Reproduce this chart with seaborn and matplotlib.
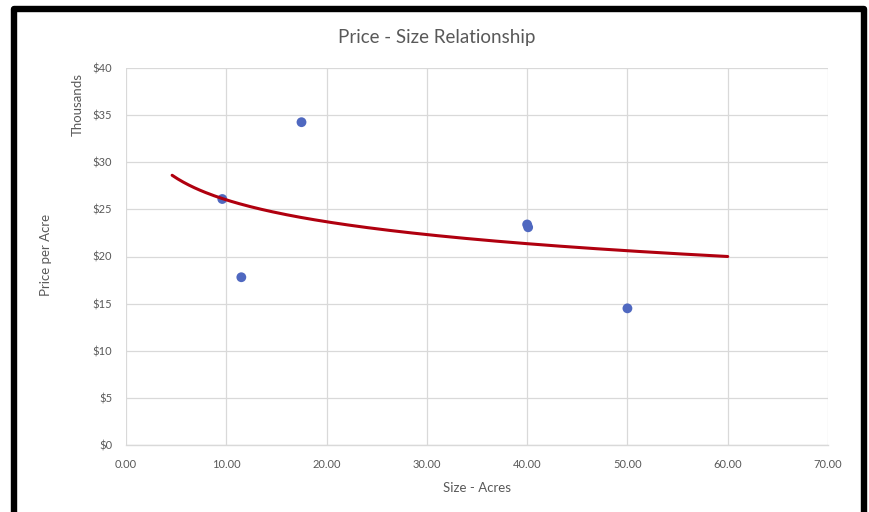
import numpy as np
import pandas as pd
import matplotlib
matplotlib.use("Agg")
import matplotlib.pyplot as plt
import seaborn as sns
from matplotlib.ticker import FuncFormatter
from matplotlib.patches import Rectangle

# Parcel sizes (acres) and price per acre (dollars)
size_acres = [9.6, 11.5, 17.5, 40.0, 40.1, 50.0]
price_per_acre = [26100, 17800, 34250, 23400, 23100, 14500]

x_ticks = [0, 10, 20, 30, 40, 50, 60, 70]
y_ticks = [0, 5000, 10000, 15000, 20000, 25000, 30000, 35000, 40000]

df = pd.DataFrame({"size": size_acres, "price": price_per_acre})

sns.set_theme(style="white")
plt.rcParams["font.family"] = ["Lato", "DejaVu Sans"]

text_grey = "#595959"
grid_grey = "#d9d9d9"

fig = plt.figure(figsize=(8.7, 5.12), dpi=100)
ax = fig.add_axes([126 / 870, 1 - 445 / 512, (828 - 126) / 870, (445 - 68) / 512])

# Logarithmic trendline fitted to the points, extended to 60 acres
c, a = np.polyfit(np.log(df["size"]), df["price"], 1)
trend_x = np.linspace(4.6, 60, 200)
trend = pd.DataFrame({"size": trend_x, "price": a + c * np.log(trend_x)})

sns.scatterplot(data=df, x="size", y="price", ax=ax, color="#4f68c0",
                s=50, edgecolor="none", zorder=3)
sns.lineplot(data=trend, x="size", y="price", ax=ax, color="#b0000f",
             linewidth=2.2, zorder=4)

ax.set_xlim(0, 70)
ax.set_ylim(0, 40000)
ax.set_xticks(x_ticks)
ax.set_yticks(y_ticks)
ax.xaxis.set_major_formatter(FuncFormatter(lambda v, p: f"{v:.2f}"))
ax.yaxis.set_major_formatter(FuncFormatter(lambda v, p: f"${v / 1000:.0f}"))
ax.grid(True, color=grid_grey, linewidth=0.9)
ax.set_axisbelow(True)
for side in ["top", "right", "left"]:
    ax.spines[side].set_visible(False)
ax.spines["bottom"].set_color(grid_grey)
ax.spines["bottom"].set_linewidth(1.0)
ax.tick_params(axis="both", length=0, colors=text_grey, labelsize=8)
ax.tick_params(axis="x", pad=10)
ax.tick_params(axis="y", pad=10)

ax.set_xlabel("Size - Acres", color=text_grey, fontsize=9.5, labelpad=9)
ax.set_ylabel("")
fig.text(46 / 870, 1 - 255 / 512, "Price per Acre", rotation=90, color=text_grey,
         fontsize=9.5, ha="center", va="center")
fig.text(78 / 870, 1 - 105 / 512, "Thousands", rotation=90, color=text_grey,
         fontsize=9.5, ha="center", va="center")
fig.text(437 / 870, 1 - 37 / 512, "Price - Size Relationship", color=text_grey,
         fontsize=13.5, ha="center", va="center")

# Black frame around the chart
frame = Rectangle((14 / 870, -0.05), (864.5 - 14) / 870, 1 - 9 / 512 + 0.05,
                  transform=fig.transFigure, fill=False, edgecolor="black",
                  linewidth=4.6, joinstyle="round", clip_on=False)
fig.patches.append(frame)

fig.savefig("out.png", dpi=100)
